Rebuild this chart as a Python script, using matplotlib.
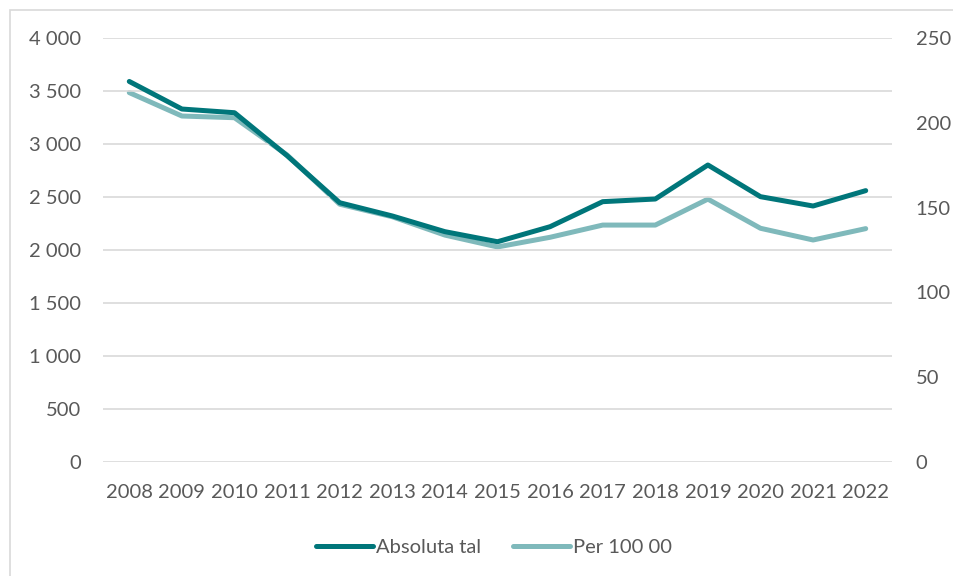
import matplotlib
matplotlib.use("Agg")
import matplotlib.pyplot as plt
from matplotlib.patches import Rectangle
from matplotlib.ticker import FuncFormatter

years = [str(y) for y in range(2008, 2023)]
absolute = [3590, 3330, 3295, 2890, 2446, 2321, 2173, 2078,
            2220, 2456, 2481, 2802, 2503, 2415, 2560]
per_100k = [217.8, 204, 203, 181, 152, 144.6, 133.8, 126.8,
            132.5, 139.7, 139.7, 155, 137.8, 130.9, 137.6]

DARK = "#00767a"
LIGHT = "#7fb9bb"
GRID = "#d9d9d9"
TEXT = "#595959"
FS = 14.5

plt.rcParams["font.family"] = ["Lato", "DejaVu Sans"]
plt.rcParams["font.size"] = FS

fig = plt.figure(figsize=(9.54, 5.76), dpi=100)
W, H = 954, 576
ax = fig.add_axes((103 / W, 1 - 462 / H, (892 - 103) / W, (462 - 38) / H))
ax2 = ax.twinx()

x = range(len(years))
l1, = ax.plot(x, absolute, color=DARK, lw=3.6, solid_capstyle="round",
              solid_joinstyle="round", label="Absoluta tal", zorder=3)
l2, = ax2.plot(x, per_100k, color=LIGHT, lw=3.6, solid_capstyle="round",
               solid_joinstyle="round", label="Per 100 00", zorder=2)

ax.set_xlim(-0.5, len(years) - 0.5)
ax.set_ylim(0, 4000)
ax2.set_ylim(0, 250)
ax.set_yticks(range(0, 4001, 500))
ax2.set_yticks(range(0, 251, 50))
ax.yaxis.set_major_formatter(FuncFormatter(lambda v, p: f"{int(v):,}".replace(",", " ")))
ax.set_xticks(list(x))
ax.set_xticklabels(years)

ax.grid(axis="y", color=GRID, lw=1.2)
ax.set_axisbelow(True)
for a in (ax, ax2):
    for s in a.spines.values():
        s.set_visible(False)
    a.tick_params(length=0, colors=TEXT, labelsize=FS)
ax.tick_params(axis="y", pad=16)
ax.tick_params(axis="x", pad=16)
ax2.tick_params(axis="y", pad=17)

# dark line above the light one
ax.set_zorder(ax2.get_zorder() + 1)
ax.patch.set_visible(False)

fig.patches.append(Rectangle((10 / W, -0.1), 1.1, 1 - 10 / H + 0.1,
                             transform=fig.transFigure, fill=False,
                             edgecolor=GRID, lw=1.2))

fig.legend(handles=[l1, l2], loc="center", bbox_to_anchor=(494 / W, 1 - 547 / H),
           ncol=2, frameon=False, handlelength=2.8, handletextpad=0.15,
           columnspacing=1.6, labelcolor=TEXT, fontsize=FS)

fig.savefig("out.png", dpi=100)
